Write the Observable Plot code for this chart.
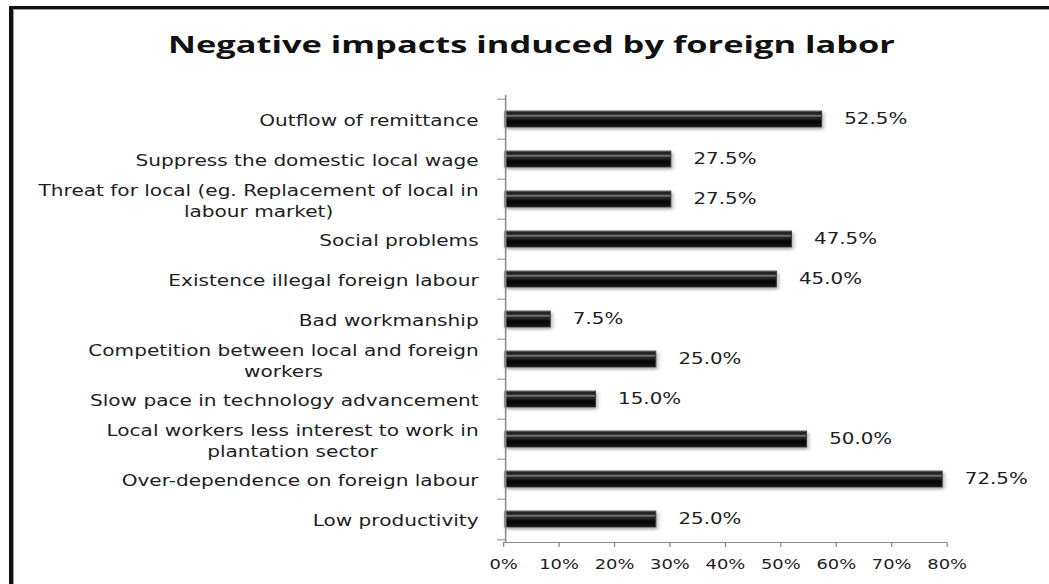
<!DOCTYPE html>
<html>
<head>
<meta charset="utf-8">
<script src="https://cdn.jsdelivr.net/npm/d3@7"></script>
<script src="https://cdn.jsdelivr.net/npm/@observablehq/plot@0.6"></script>
<style>
  body { margin: 0; background: #fff; }
  #wrap { position: relative; width: 1049px; height: 584px; overflow: hidden; background: #fff; }
  #border { position: absolute; left: 9px; top: 6px; right: -30px; bottom: -30px;
            border-top: 3px solid #111; border-left: 4px solid #111;
            box-shadow: inset 1px 1px 0 #9a9a9a; }
  .layer { position: absolute; left: 0; top: 0; transform: scaleX(1.28); transform-origin: 0 0; overflow: visible; }
  #title { position: absolute; left: 0; top: 0; }
  g[aria-label="bar"] rect { fill: url(#barGrad); filter: drop-shadow(1.5px 2px 1.5px rgba(0,0,0,0.35)); }
</style>
</head>
<body>
<div id="wrap">
  <div id="border"></div>
  <svg id="title" width="1049" height="80">
    <text x="531.5" y="53" text-anchor="middle" font-family="'Open Sans', 'Noto Sans', sans-serif"
          font-weight="700" font-size="24" fill="#111" textLength="727" lengthAdjust="spacingAndGlyphs">Negative impacts induced by foreign labor</text>
  </svg>
</div>
<script>
// ---- data ----
const categories = [
  "Outflow of remittance",
  "Suppress the domestic local wage",
  "Threat for local (eg. Replacement of local in\nlabour market)",
  "Social problems",
  "Existence illegal foreign labour",
  "Bad workmanship",
  "Competition between local and foreign\nworkers",
  "Slow pace in technology advancement",
  "Local workers less interest to work in\nplantation sector",
  "Over-dependence on foreign labour",
  "Low productivity"
];
const values = [52.5, 27.5, 27.5, 47.5, 45.0, 7.5, 25.0, 15.0, 50.0, 72.5, 25.0];
const tickValues = [0, 10, 20, 30, 40, 50, 60, 70, 80];
const tickLabels = ["0%", "10%", "20%", "30%", "40%", "50%", "60%", "70%", "80%"];

const data = categories.map((c, i) => ({category: c, value: values[i]}));

// ---- layout (pre-stretch units) ----
const S = 1.28;               // horizontal stretch of the reference rendering
const W = 1049 / S;
const H = 584;
const mTop = 95, mBottom = 584 - 542;
const step = (H - mTop - mBottom) / categories.length;
const font = "'DejaVu Sans', Verdana, sans-serif";
const gray = "#8a8a8a";
const ink = "#1e1e1e";

const wrap = document.getElementById("wrap");

// Bars, category axis, value labels
const barPlot = Plot.plot({
  width: W, height: H,
  marginLeft: 505 / S, marginRight: W - 987.4 / S,
  marginTop: mTop, marginBottom: mBottom,
  style: {fontFamily: font, fontSize: "15.7px", color: ink, background: "transparent", overflow: "visible"},
  x: {domain: [0, 80], axis: null},
  y: {domain: categories, paddingInner: 0.6, paddingOuter: 0.3, axis: null},
  marks: [
    Plot.barX(data, {x: "value", y: "category", fill: "black", stroke: "#3a3a3a", strokeWidth: 0.8}),
    Plot.ruleX([0], {stroke: gray, strokeWidth: 1.2}),
    Plot.axisY({tickSize: 8 / S, dy: -step / 2, stroke: gray, tickFormat: () => "", label: null}),
    Plot.axisY({ticks: [categories[categories.length - 1]], tickSize: 8 / S, dy: step / 2, stroke: gray, tickFormat: () => "", label: null}),
    Plot.axisY({tickSize: 0, tickPadding: 27 / S, fill: ink, lineHeight: 1.35, label: null, fontSize: 15.7}),
    Plot.text(data, {x: "value", y: "category", text: d => d3.format(".1f")(d.value) + "%",
                     dx: 22 / S, textAnchor: "start", fill: ink, fontSize: 15.5})
  ]
});
barPlot.classList.add("layer");
barPlot.insertAdjacentHTML("afterbegin", `
  <defs>
    <linearGradient id="barGrad" x1="0" y1="0" x2="0" y2="1">
      <stop offset="0" stop-color="#7a7a7a"/>
      <stop offset="0.1" stop-color="#1c1c1c"/>
      <stop offset="0.2" stop-color="#262626"/>
      <stop offset="0.3" stop-color="#7c7c7c"/>
      <stop offset="0.4" stop-color="#2a2a2a"/>
      <stop offset="0.65" stop-color="#050505"/>
      <stop offset="1" stop-color="#151515"/>
    </linearGradient>
  </defs>`);

// Percentage axis
const axisPlot = Plot.plot({
  width: W, height: H,
  marginLeft: 503 / S, marginRight: W - 946.5 / S,
  marginTop: mTop, marginBottom: mBottom,
  style: {fontFamily: font, fontSize: "14px", color: ink, background: "transparent", overflow: "visible"},
  x: {domain: [0, 80], axis: null},
  y: {domain: [0, 1], axis: null},
  marks: [
    Plot.ruleY([0], {stroke: gray, strokeWidth: 1.2}),
    Plot.axisX({ticks: tickValues, tickFormat: (d) => tickLabels[tickValues.indexOf(d)],
                tickSize: 5, tickPadding: 12, stroke: gray, fill: ink, label: null, fontSize: 14})
  ]
});
axisPlot.classList.add("layer");

wrap.appendChild(axisPlot);
wrap.appendChild(barPlot);

// Center wrapped lines of multi-line category labels within their block (as in the reference)
barPlot.querySelectorAll("text").forEach(t => {
  const spans = t.querySelectorAll("tspan");
  if (spans.length > 1) {
    const lens = Array.from(spans, s => s.getComputedTextLength());
    const max = Math.max(...lens);
    spans.forEach((s, i) => s.setAttribute("x", -(max - lens[i]) / 2));
  }
});
</script>
</body>
</html>
